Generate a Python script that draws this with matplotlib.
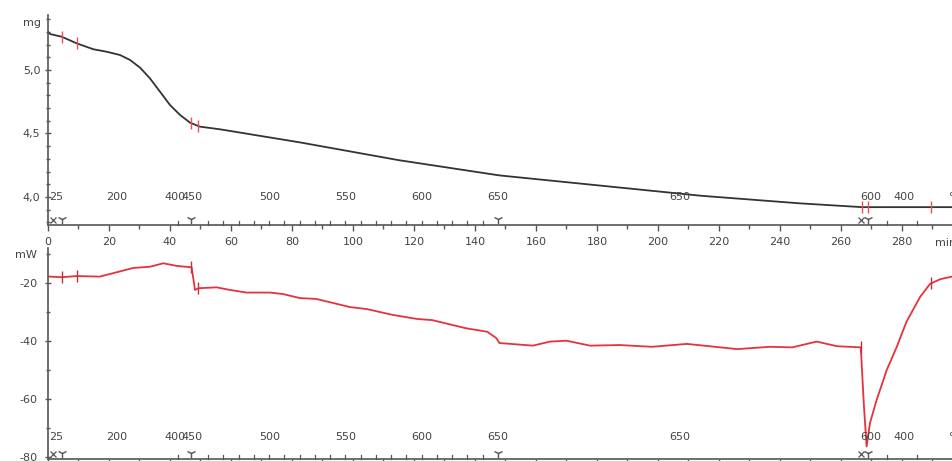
import numpy as np
import matplotlib
matplotlib.use('Agg')
import matplotlib.pyplot as plt
from matplotlib.ticker import MultipleLocator, FuncFormatter
import matplotlib.transforms as mtransforms

plt.rcParams['font.family'] = ['DejaVu Sans']
plt.rcParams['axes.unicode_minus'] = False

# ----------------------------------------------------------------------- data
# TG curve (mass, mg) against time (min)
tg_time = [0, 0.7, 4.5, 9.4, 14.9, 19.2, 23.6, 26.9, 30.2, 33.4, 36.7, 40.0,
           43.3, 46.6, 49.8, 56.4, 82.6, 115, 148, 181, 214, 246.5, 267, 279, 296.4]
tg_mass = [5.30, 5.283, 5.262, 5.21, 5.163, 5.144, 5.118, 5.079, 5.018, 4.935,
           4.83, 4.724, 4.646, 4.585, 4.554, 4.533, 4.43, 4.29, 4.17, 4.09,
           4.01, 3.95, 3.92, 3.92, 3.92]

# DSC curve (heat flow, mW) against time (min)
dsc_time = [0, 0.7, 4.5, 9.5, 17, 28, 33.4, 37.8, 42.2, 47.1, 48.2, 49.3, 55.3,
            59.7, 65.1, 72.8, 77, 82.6, 88, 99, 104.6, 113, 121, 126, 137, 144,
            147, 148, 159, 164.6, 170, 177.7, 187.5, 198, 209.5, 226, 236.7, 244,
            252, 258.7, 266.5, 267.5, 268.4, 269.5, 271.7, 275, 278.3, 281.5,
            286, 289.2, 292.5, 296.4]
dsc_mw = [-17.8, -17.8, -18.0, -17.6, -17.8, -14.8, -14.4, -13.2, -14.1, -14.6,
          -22.4, -21.8, -21.5, -22.4, -23.3, -23.3, -23.8, -25.2, -25.5, -28.3,
          -29.0, -31.0, -32.4, -32.8, -35.6, -36.8, -39.0, -40.7, -41.6, -40.2,
          -39.9, -41.6, -41.4, -42.0, -41.0, -42.8, -42.0, -42.2, -40.2, -41.8,
          -42.2, -62.0, -76.4, -68.3, -60.3, -50.0, -42.0, -33.3, -24.7, -20.3,
          -18.7, -17.8]

# temperature programme labels drawn along the time axis
temp_labels = ['25', '200', '400', '450', '500', '550', '600', '650', '650', '600', '400', '°C']
temp_label_t = [2.8, 22.6, 41.6, 47.2, 72.8, 97.7, 122.6, 147.5, 207, 269.6, 280.5, 297.5]
temp_tick_t = [42.5] + list(np.arange(52.5, 147.5, 5)) + [275, 285]

# segment markers and evaluation marks
seg_y_t = [4.5, 47, 147.5, 269]
seg_x_t = [1.5, 266.5]
tg_marks_t = [4.5, 9.4, 47.0, 49.3, 266.8, 268.8, 289.5]
dsc_marks_t = [4.5, 9.5, 47.0, 49.3, 266.5, 289.5]

# time axis
time_max = 296.4

# ----------------------------------------------------------------------- layout
W, H = 952, 461


def px_rect(x0, y0, x1, y1):
    return [x0 / W, 1 - y1 / H, (x1 - x0) / W, (y1 - y0) / H]


def temp_axis(ax, ylab):
    """ temperature programme drawn on top of the time axis """
    trans = mtransforms.blended_transform_factory(ax.transData, ax.transAxes)
    for t, lab in zip(temp_label_t, temp_labels):
        ax.text(t, ylab, lab, transform=trans, ha='center', va='center',
                fontsize=8, color='#444444', clip_on=False)
    for t in temp_tick_t:
        ax.plot([t, t], [0, 0.018], transform=trans, color='#555555',
                lw=0.9, clip_on=False)
    ax.plot(seg_y_t, [0.028] * len(seg_y_t), '1', transform=trans,
            color='#555555', ms=7, mew=1.0, clip_on=False)
    ax.plot(seg_x_t, [0.024] * len(seg_x_t), 'x', transform=trans,
            color='#555555', ms=4, mew=0.9, clip_on=False)


def style_axes(ax):
    for s in ['top', 'right']:
        ax.spines[s].set_visible(False)
    for s in ['left', 'bottom']:
        ax.spines[s].set_color('#555555')
        ax.spines[s].set_linewidth(1.2)
    ax.set_xlim(0, time_max)
    ax.xaxis.set_major_locator(MultipleLocator(20))
    ax.xaxis.set_minor_locator(MultipleLocator(10))
    ax.tick_params(axis='x', which='major', direction='out', length=4.5,
                   width=1.0, color='#555555', labelsize=8,
                   labelcolor='#444444', pad=4)
    ax.tick_params(axis='x', which='minor', direction='out', length=3,
                   width=1.0, color='#555555')
    ax.tick_params(axis='y', which='major', direction='inout', length=5,
                   width=1.0, color='#555555', labelsize=8,
                   labelcolor='#444444', pad=3)
    ax.tick_params(axis='y', which='minor', direction='inout', length=3,
                   width=1.0, color='#555555')


fig = plt.figure(figsize=(W / 100, H / 100), dpi=100)

# ----------------------------------------------------------------------- TG
ax1 = fig.add_axes(px_rect(48, 15, 952, 225))
style_axes(ax1)
ax1.set_ylim(3.7795, 5.433)
ax1.yaxis.set_major_locator(MultipleLocator(0.5))
ax1.yaxis.set_minor_locator(MultipleLocator(0.1))
ax1.yaxis.set_major_formatter(FuncFormatter(lambda v, p: '{:.1f}'.format(v).replace('.', ',')))
ax1.plot(tg_time, tg_mass, color='#333333', lw=1.3)
ax1.plot(tg_marks_t, np.interp(tg_marks_t, tg_time, tg_mass), '|',
         color='#e8505a', ms=9, mew=1.0)
temp_axis(ax1, 0.133)
ax1.text(290.8, -0.085, 'min', transform=mtransforms.blended_transform_factory(
    ax1.transData, ax1.transAxes), ha='left', va='center', fontsize=8,
    color='#444444', clip_on=False)
fig.text(41 / W, 1 - 23 / H, 'mg', ha='right', va='center', fontsize=8, color='#444444')

# ----------------------------------------------------------------------- DSC
ax2 = fig.add_axes(px_rect(48, 248, 952, 459))
style_axes(ax2)
ax2.set_ylim(-80.69, -7.93)
ax2.yaxis.set_major_locator(MultipleLocator(20))
ax2.yaxis.set_minor_locator(MultipleLocator(10))
ax2.tick_params(axis='y', pad=5)
ax2.tick_params(axis='x', labelbottom=False)
ax2.plot(dsc_time, dsc_mw, color='#e5323c', lw=1.3)
ax2.plot(dsc_marks_t, np.interp(dsc_marks_t, dsc_time, dsc_mw), '|',
         color='#c0303a', ms=8, mew=1.0)
temp_axis(ax2, 0.104)
fig.text(37 / W, 1 - 255 / H, 'mW', ha='right', va='center', fontsize=8, color='#444444')

fig.savefig('out.png', dpi=100)
